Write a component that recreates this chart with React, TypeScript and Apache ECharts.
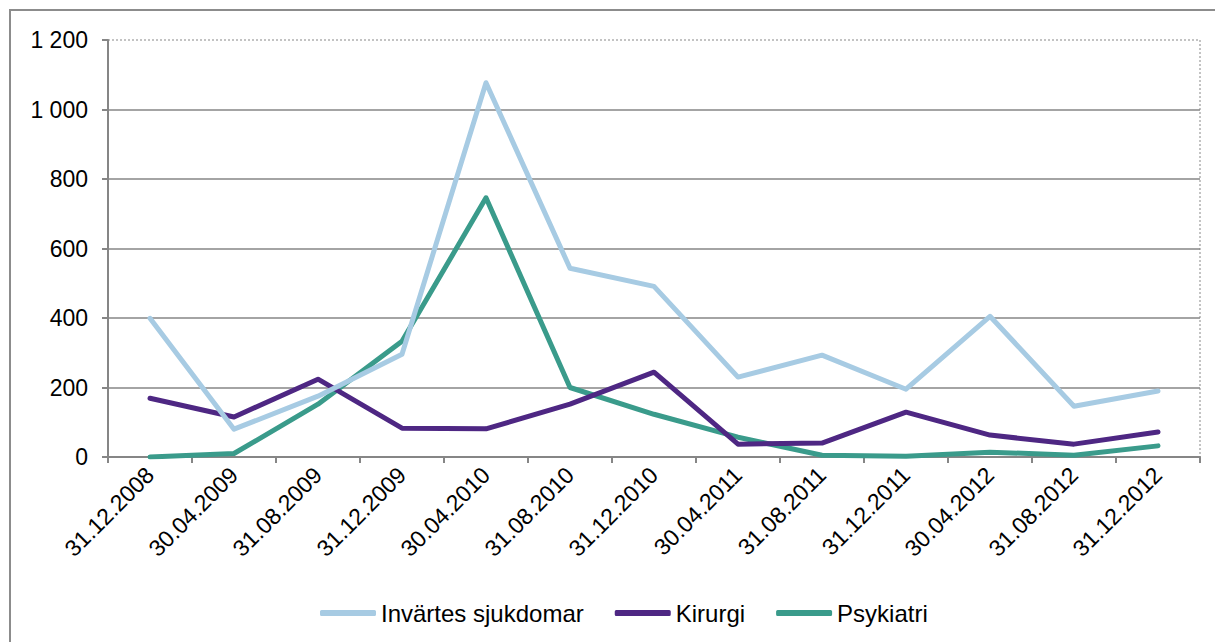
import React, { useEffect, useRef } from "react";
import * as echarts from "echarts";

const categories = [
  "31.12.2008", "30.04.2009", "31.08.2009", "31.12.2009", "30.04.2010",
  "31.08.2010", "31.12.2010", "30.04.2011", "31.08.2011", "31.12.2011",
  "30.04.2012", "31.08.2012", "31.12.2012",
];
const invartes = [399, 80, 175, 296, 1077, 543, 491, 230, 293, 195, 405, 146, 190];
const kirurgi = [169, 115, 224, 83, 81, 152, 244, 37, 40, 129, 63, 37, 72];
const psykiatri = [0, 10, 152, 333, 746, 200, 123, 57, 5, 2, 14, 5, 32];
const seriesNames = ["Invärtes sjukdomar", "Kirurgi", "Psykiatri"];
const colors = ["#a7cbe3", "#4e2783", "#3a9b8b"];

export default function App() {
  const ref = useRef<HTMLDivElement>(null);
  useEffect(() => {
    const chart = echarts.init(ref.current!, null, { renderer: "svg" });
    const font = "'Liberation Sans', Arial, sans-serif";
    const data = [invartes, kirurgi, psykiatri];
    chart.setOption({
      animation: false,
      color: colors,
      graphic: [
        {
          type: "rect",
          shape: { x: 10, y: 10, width: 1215, height: 640 },
          style: { fill: "none", stroke: "#8c8c8c", lineWidth: 2 },
          silent: true,
        },
      ],
      grid: {
        left: 108,
        right: 15,
        top: 40,
        bottom: 185,
        show: true,
        borderColor: "#b0b0b0",
        borderWidth: 1.5,
        borderType: [2, 2],
      } as any,
      legend: {
        left: 320,
        top: 601,
        padding: 0,
        itemWidth: 56,
        itemHeight: 6,
        itemGap: 31,
        icon: "roundRect",
        textStyle: { fontFamily: font, fontSize: 24, color: "#000" },
        data: seriesNames,
      },
      xAxis: {
        type: "category",
        data: categories,
        boundaryGap: true,
        axisLine: { lineStyle: { color: "#868686", width: 2 } },
        axisTick: { show: true, length: 6, lineStyle: { color: "#868686", width: 2 } },
        axisLabel: {
          rotate: 45,
          margin: 14,
          fontFamily: font,
          fontSize: 23,
          color: "#000",
          interval: 0,
        },
      },
      yAxis: {
        type: "value",
        min: 0,
        max: 1200,
        interval: 200,
        axisLine: { show: true, lineStyle: { color: "#868686", width: 2 } },
        axisTick: { show: true, length: 6, lineStyle: { color: "#868686", width: 2 } },
        axisLabel: {
          margin: 20,
          fontFamily: font,
          fontSize: 23,
          color: "#000",
          formatter: (v: number) =>
            String(v).replace(/\B(?=(\d{3})+(?!\d))/g, " "),
        },
        splitLine: {
          lineStyle: {
            color: ["#868686", "#868686", "#868686", "#868686", "#868686", "#868686", "rgba(0,0,0,0)"],
            width: 1.5,
          },
        },
      },
      series: data.map((d, i) => ({
        name: seriesNames[i],
        type: "line",
        data: d,
        symbol: "none",
        lineStyle: { width: 5, color: colors[i], cap: "round", join: "round" },
        itemStyle: { color: colors[i] },
        z: 3 - i,
      })),
    });
    return () => chart.dispose();
  }, []);
  return (
    <div
      ref={ref}
      style={{ position: "fixed", left: 0, top: 0, width: 1215, height: 642, background: "#fff" }}
    />
  );
}
